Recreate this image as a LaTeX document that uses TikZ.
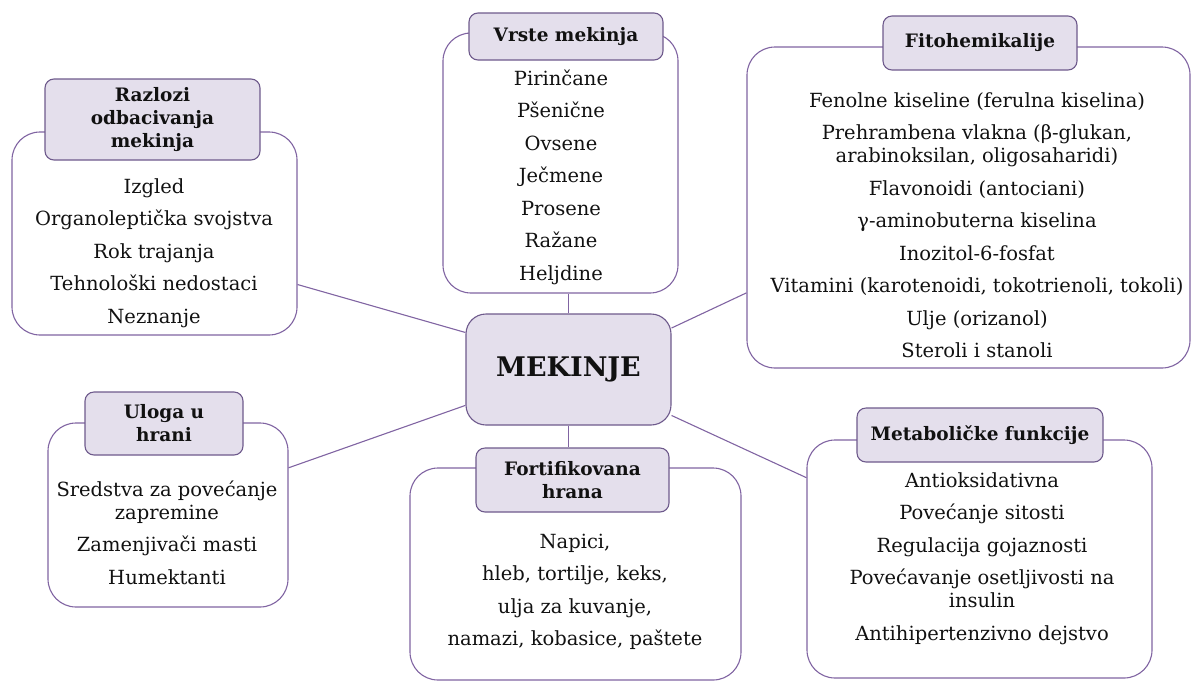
\documentclass[tikz,border=0pt]{standalone}
\usepackage{fontspec}
\setmainfont{DejaVu Serif}
\usetikzlibrary{calc}
\definecolor{bord}{HTML}{8064A2}
\definecolor{hbord}{HTML}{6E5A8C}
\definecolor{hfill}{HTML}{E4DFEC}
\definecolor{txt}{HTML}{111111}
\tikzset{
  outerbox/.style={draw=bord, line width=1.1pt, rounded corners=28pt, fill=white, inner sep=0pt},
  headbox/.style={draw=hbord, fill=hfill, line width=1.1pt, rounded corners=9pt, inner sep=0pt,
    font=\bfseries\fontsize{18.5}{23}\selectfont, align=center, text=txt},
  bodytext/.style={font=\fontsize{19.5}{32.5}\selectfont, align=center, text=txt, inner sep=0pt},
  link/.style={draw=bord, line width=1.1pt}
}
\begin{document}
\begin{tikzpicture}[x=1pt,y=-1pt]
\useasboundingbox (0,0) rectangle (1194,681);
% centre
\node[headbox, rounded corners=20pt, minimum width=205pt, minimum height=111pt,
  font=\bfseries\fontsize{27}{32}\selectfont] (mek) at (568.5,369.5) {MEKINJE};
% outer boxes
\node[outerbox, minimum width=285pt, minimum height=203pt] (razO) at (154.5,233.5) {};
\node[outerbox, minimum width=235pt, minimum height=260pt] (vrsO) at (560.5,163) {};
\node[outerbox, minimum width=443pt, minimum height=321pt] (fitO) at (968.5,207.5) {};
\node[outerbox, minimum width=240pt, minimum height=184pt] (ulO) at (168,515) {};
\node[outerbox, minimum width=331pt, minimum height=212pt] (fortO) at (575.5,574) {};
\node[outerbox, minimum width=345pt, minimum height=238pt] (metO) at (979.5,559) {};
% connectors
\draw[link] ($(razO.south east)!0.25!(razO.north east)$) -- ($(mek.north west)!0.17!(mek.south west)$);
\draw[link] (mek.north) -- (mek.north |- vrsO.south);
\draw[link] ($(mek.north east)!0.13!(mek.south east)$) -- ($(fitO.north west)!0.765!(fitO.south west)$);
\draw[link] ($(ulO.north east)!0.245!(ulO.south east)$) -- ($(mek.north west)!0.82!(mek.south west)$);
\draw[link] ($(mek.north east)!0.91!(mek.south east)$) -- ($(metO.north west)!0.16!(metO.south west)$);
% headers
\node[headbox, minimum width=215pt, minimum height=81pt] (razH) at (152.5,119.5) {Razlozi\\odbacivanja\\mekinja};
\node[headbox, minimum width=194pt, minimum height=47pt] (vrsH) at (566,36.5) {Vrste mekinja};
\node[headbox, minimum width=194pt, minimum height=54pt] (fitH) at (980,43) {Fitohemikalije};
\node[headbox, minimum width=158pt, minimum height=63pt] (ulH) at (164,423.5) {Uloga u\\hrani};
\node[headbox, minimum width=193pt, minimum height=64pt] (fortH) at (572.5,480) {Fortifikovana\\hrana};
\node[headbox, minimum width=246pt, minimum height=54pt] (metH) at (980,435) {Metaboličke funkcije};
\draw[link] (mek.south) -- (mek.south |- fortH.north);
% bodies
\node[bodytext] (razB) at (154,253) {Izgled\\Organoleptička svojstva\\Rok trajanja\\Tehnološki nedostaci\\Neznanje};
\node[bodytext] (vrsB) at (561,177) {Pirinčane\\Pšenične\\Ovsene\\Ječmene\\Prosene\\Ražane\\Heljdine};
\node[bodytext] (fitB) at (977,225) {Fenolne kiseline (ferulna kiselina)\\Prehrambena vlakna (β-glukan,\\[-9.5pt]arabinoksilan, oligosaharidi)\\Flavonoidi (antociani)\\γ-aminobuterna kiselina\\Inozitol-6-fosfat\\Vitamini (karotenoidi, tokotrienoli, tokoli)\\Ulje (orizanol)\\Steroli i stanoli};
\node[bodytext] (ulB) at (167,532.5) {Sredstva za povećanje\\[-9.5pt]zapremine\\Zamenjivači masti\\Humektanti};
\node[bodytext] (fortB) at (575,592) {Napici,\\hleb, tortilje, keks,\\ulja za kuvanje,\\namazi, kobasice, paštete};
\node[bodytext] (metB) at (982,558.5) {Antioksidativna\\Povećanje sitosti\\Regulacija gojaznosti\\Povećavanje osetljivosti na\\[-9.5pt]insulin\\Antihipertenzivno dejstvo};
\end{tikzpicture}
\end{document}
